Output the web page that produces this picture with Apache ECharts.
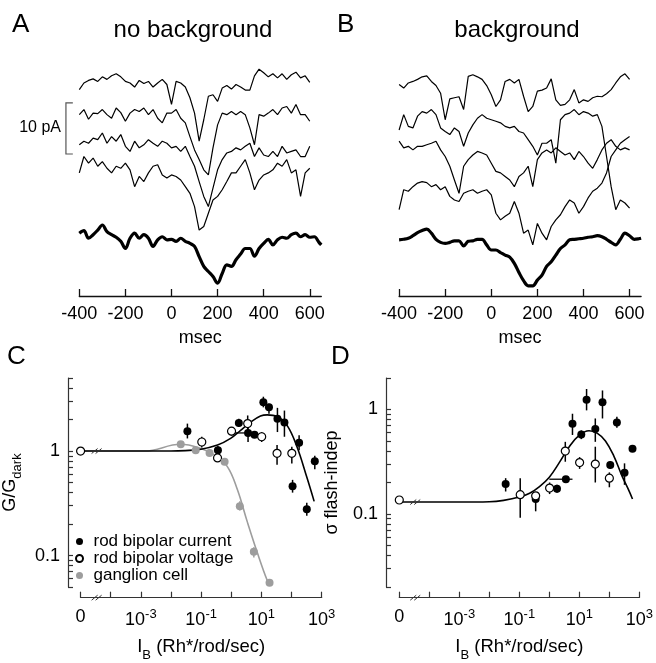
<!DOCTYPE html>
<html>
<head>
<meta charset="utf-8">
<script src="https://cdn.jsdelivr.net/npm/echarts@6/dist/echarts.min.js"></script>
<style>
  html, body { margin: 0; padding: 0; background: #fff; }
  #chart { width: 656px; height: 663px; }
</style>
</head>
<body>
<div id="chart"></div>
<script>
const FONT = '"Liberation Sans", Arial, Helvetica, sans-serif';
const GRAY = '#9d9d9d';

// ---- A / B : current traces (pA, stacked as drawn) ----
const traceTimes = [-400,-380,-360,-340,-320,-300,-280,-260,-240,-220,-200,-180,-160,-140,-120,-100,-80,-60,-40,-20,
  0,20,40,60,80,100,120,140,160,180,200,220,240,260,280,300,320,340,360,380,400,420,440,460,480,500,520,540,560,580,600];
const avgTimes = [-400,-380,-360,-340,-320,-300,-280,-260,-240,-220,-200,-180,-160,-140,-120,-100,-80,-60,-40,-20,
  0,20,40,60,80,100,120,140,160,180,200,220,240,260,280,300,320,340,360,380,400,420,440,460,480,500,520,540,560,580,600,620,640,650];

const noBg1 = [40.4,41.7,42.2,42.5,42.0,42.9,42.4,43.1,43.5,42.9,42.0,41.7,40.9,42.2,41.6,42.0,40.9,41.7,42.4,41.4,
  37.5,42.0,41.7,40.9,38.8,35.8,30.3,34.5,39.1,39.4,38.1,40.7,41.2,40.5,41.4,40.9,40.3,40.3,43.1,44.4,43.7,42.9,43.5,42.7,43.5,42.4,43.3,43.8,42.7,43.1,41.8];
const noBg2 = [35.5,36.5,34.6,35.8,35.7,36.5,35.5,34.8,36.8,35.9,34.2,35.8,36.5,36.1,36.8,35.5,36.5,34.8,33.9,35.8,
  35.8,36.5,34.8,33.9,31.2,28.6,26.7,24.7,23.7,29.0,33.5,35.8,35.5,36.1,35.5,36.1,35.5,32.9,29.6,35.5,35.2,35.8,36.5,35.5,36.8,37.1,35.8,37.5,35.5,35.5,34.2];
const noBg3 = [29.6,30.3,29.9,30.9,30.6,31.9,29.9,31.2,30.3,31.6,29.3,28.3,30.3,29.0,29.6,30.6,29.9,29.3,30.3,29.9,
  29.0,29.3,28.3,29.3,27.3,25.4,22.4,19.5,17.5,21.1,24.7,26.7,28.0,28.3,29.0,28.6,29.3,29.9,27.3,29.0,27.6,27.3,28.3,27.3,29.3,28.0,28.3,28.6,27.3,27.3,29.3];
const noBg4 = [24.1,27.3,26.0,27.0,25.4,26.3,25.0,24.1,25.4,25.0,26.0,24.7,21.4,23.4,22.4,24.1,25.4,25.7,23.7,23.1,
  23.7,23.4,22.7,21.4,20.1,17.5,12.9,13.6,16.2,18.8,19.5,20.8,22.4,24.1,24.1,25.4,26.7,24.1,20.8,22.7,23.7,24.1,24.7,26.0,25.4,26.7,24.1,24.7,19.5,24.1,25.0];
const noBgAvg = [12.3,12.8,11.3,12.0,12.9,13.9,12.6,12.0,11.5,10.7,9.3,11.3,12.3,11.3,12.0,11.3,9.7,11.0,11.6,11.0,
  11.1,10.7,11.3,10.7,10.3,9.7,7.7,5.8,4.8,3.8,2.5,4.4,6.1,5.8,7.1,8.2,9.3,9.3,7.8,9.3,10.3,11.1,10.0,11.0,11.5,11.3,12.0,12.3,11.6,12.0,11.5,11.6,10.5,10.0];

const bg1 = [41.4,40.7,41.7,42.0,42.4,42.9,43.1,42.0,41.2,39.7,34.5,38.6,38.8,39.0,36.5,43.0,43.3,42.9,42.4,41.2,
  39.4,37.1,38.4,42.0,42.4,41.7,42.4,39.1,36.1,37.1,40.1,40.3,40.7,42.5,38.4,37.3,37.5,38.4,40.4,37.8,38.4,38.1,38.8,39.1,39.0,39.6,40.4,41.7,42.9,43.5,42.4];
const bg2 = [32.5,35.5,33.2,32.9,35.2,36.1,35.8,36.5,35.5,32.9,32.2,31.6,32.9,32.2,29.3,31.9,33.5,34.8,35.5,34.8,
  34.5,34.2,33.9,33.2,32.9,33.2,32.2,31.9,30.6,29.3,27.6,29.9,29.9,30.6,26.0,34.5,35.5,35.8,36.5,35.5,36.1,35.8,35.2,35.5,33.2,27.3,21.4,16.9,18.8,18.2,17.2];
const bg3 = [30.3,29.0,29.3,28.6,29.3,29.3,29.6,29.9,30.3,28.6,27.3,25.4,22.7,20.1,25.4,26.7,27.6,28.3,28.0,27.6,
  26.0,24.4,24.1,23.4,22.7,21.4,23.4,24.1,25.4,21.4,26.7,28.0,28.6,28.0,29.0,28.3,27.6,28.0,26.7,28.3,27.3,26.0,25.0,26.7,28.6,29.9,30.6,29.3,28.6,29.0,28.6];
const bg4 = [16.9,20.8,20.5,21.4,22.1,22.4,22.2,21.4,21.8,20.8,21.4,19.5,18.8,18.5,20.1,20.5,20.8,20.1,20.5,20.8,
  19.8,16.2,14.9,15.6,16.2,18.5,16.2,12.3,12.9,10.0,14.2,12.3,11.0,13.6,14.9,15.9,17.5,18.8,18.2,16.2,17.5,19.2,20.5,21.1,22.1,24.1,27.3,28.6,29.9,30.6,31.2];
const bgAvg = [11.0,11.1,11.3,11.8,12.4,12.8,13.1,12.3,11.1,10.5,10.3,10.5,10.8,10.8,9.8,10.7,10.8,11.1,11.1,10.0,
  9.0,9.0,8.5,8.0,7.6,6.4,4.6,3.0,2.0,2.0,3.1,4.1,5.8,6.7,8.0,9.3,10.0,11.0,11.1,11.2,11.3,11.5,11.6,11.8,11.6,11.1,10.5,10.0,11.1,12.3,11.8,11.1,11.2,11.3];

const timeTicks = [-400, -200, 0, 200, 400, 600];
// scale bar: 10 pA, drawn left of the traces
const scaleBarPA = 10;
const scaleBarBase = 27.8;
const scaleBarT = -458;
const scaleBarTickEnd = -428;

// ---- C : G/Gdark vs background ----
const cCurrentX  = [0.035, 0.36, 1.78, 3.6, 5.9, 11.6, 17.8, 34, 58, 178, 108, 320, 590];
const cCurrentY  = [1.55, 1.02, 1.85, 1.49, 1.43, 2.93, 2.62, 2.04, 1.88, 1.2, 0.46, 0.277, 0.80];
const cCurrentLo = [1.32, 0.93, 1.70, 1.22, 1.36, 2.62, 2.27, 1.52, 1.37, 1.02, 0.40, 0.24, 0.67];
const cCurrentHi = [1.83, 1.12, 2.04, 1.70, 1.50, 3.31, 2.83, 2.59, 2.44, 1.42, 0.53, 0.32, 0.90];
const cVoltageX  = [0, 0.105, 0.35, 1.02, 3.5, 10.2, 33, 102];
const cVoltageY  = [1.0, 1.22, 0.86, 1.55, 1.83, 1.37, 0.95, 0.95];
const cVoltageLo = [1.0, 1.08, 0.79, 1.40, 1.58, 1.22, 0.74, 0.76];
const cVoltageHi = [1.0, 1.37, 0.95, 1.70, 2.19, 1.52, 1.14, 1.10];
const cGanglionX  = [0.021, 0.066, 0.19, 0.6, 1.92, 5.6, 18.6];
const cGanglionY  = [1.16, 1.02, 0.96, 0.79, 0.297, 0.109, 0.055];
const cGanglionLo = [1.12, 1.0, 0.93, 0.76, 0.27, 0.096, 0.052];
const cGanglionHi = [1.2, 1.05, 0.99, 0.82, 0.33, 0.12, 0.058];
const cHorizErr = [[1.49, 1.07, 3.6]]; // [G, I low, I high]
const cFitX = [0, 0.001, 0.01, 0.03, 0.098, 0.35, 0.95, 2.04, 4.4, 9.3, 15.5, 33, 71, 151, 316, 562];
const cFitY = [1.0, 1.0, 1.0, 1.01, 1.04, 1.14, 1.32, 1.58, 1.89, 2.16, 2.22, 2.14, 1.76, 1.10, 0.57, 0.33];
const cGangFitX = [0, 0.0013, 0.021, 0.098, 0.27, 0.74, 1.58, 3.4, 7.2, 15.5, 18.6];
const cGangFitY = [1.0, 1.0, 1.16, 1.06, 0.92, 0.71, 0.43, 0.21, 0.108, 0.058, 0.054];
const cYTicks = [0.05,0.06,0.07,0.08,0.09,0.1,0.2,0.3,0.4,0.5,0.6,0.7,0.8,0.9,1,2,3,4,5];

// ---- D : sigma flash-indep vs background ----
const dCurrentX  = [0.035, 0.35, 1.8, 3.55, 5.9, 11.6, 17.4, 34, 59, 178, 107, 320, 590];
const dCurrentY  = [0.193, 0.139, 0.174, 0.215, 0.73, 0.575, 1.24, 0.65, 1.17, 0.75, 0.294, 0.248, 0.42];
const dCurrentLo = [0.164, 0.106, 0.16, 0.2, 0.57, 0.52, 0.98, 0.49, 0.82, 0.67, 0.27, 0.19, 0.40];
const dCurrentHi = [0.22, 0.158, 0.19, 0.23, 0.91, 0.63, 1.57, 0.82, 1.52, 0.85, 0.32, 0.305, 0.44];
const dVoltageX  = [0, 0.107, 0.35, 1.02, 3.4, 10.2, 34, 100];
const dVoltageY  = [0.136, 0.153, 0.149, 0.177, 0.40, 0.31, 0.30, 0.22];
const dVoltageLo = [0.136, 0.092, 0.14, 0.155, 0.316, 0.27, 0.20, 0.18];
const dVoltageHi = [0.136, 0.22, 0.16, 0.2, 0.49, 0.35, 0.44, 0.25];
const dHorizErr = [[0.215, 1.0, 5.9]];
const dFitX = [0, 0.001, 0.01, 0.03, 0.1, 0.22, 0.47, 1.0, 2.14, 4.6, 9.8, 21, 40, 74, 140, 265, 437, 590];
const dFitY = [0.13, 0.13, 0.131, 0.135, 0.145, 0.158, 0.183, 0.225, 0.31, 0.44, 0.565, 0.625, 0.59, 0.5, 0.36, 0.23, 0.17, 0.139];
const dYTicks = [0.02,0.03,0.04,0.05,0.06,0.07,0.08,0.09,0.1,0.2,0.3,0.4,0.5,0.6,0.7,0.8,0.9,1,2];

const logTicks = [1e-5, 1e-4, 1e-3, 1e-2, 1e-1, 1, 10, 100, 1000];
const logLabels = [1e-5, 1e-3, 1e-1, 10, 1000];

// "0" sits one decade left of 10^-4, with an axis break between
const ZERO_POS = 1e-5;
const BREAK_POS = 3.4e-5;
const X_AXIS_OFFSET = 10.7;

const chart = echarts.init(document.getElementById('chart'));

function xy(xs, ys) {
  return xs.map((x, i) => [x === 0 ? ZERO_POS : x, ys[i]]);
}
function err(xs, lo, hi) {
  return xs.map((x, i) => [x === 0 ? ZERO_POS : x, lo[i], hi[i]]);
}

function trace(idx, times, vals, width) {
  return {
    type: 'line', xAxisIndex: idx, yAxisIndex: idx,
    data: times.map((t, i) => [t, vals[i]]),
    symbol: 'none', smooth: width > 2 ? 0.35 : false,
    lineStyle: { color: '#000', width: width }, z: 2
  };
}

function vBars(idx, data, color) {
  return {
    type: 'custom', xAxisIndex: idx, yAxisIndex: idx, data: data, z: 3, clip: false,
    encode: { x: 0, y: [1, 2] },
    renderItem: function (params, api) {
      const a = api.coord([api.value(0), api.value(1)]);
      const b = api.coord([api.value(0), api.value(2)]);
      return { type: 'line', shape: { x1: a[0], y1: a[1], x2: b[0], y2: b[1] },
        style: { stroke: color, lineWidth: 1.5 } };
    }
  };
}

function hBars(idx, data) {
  return {
    type: 'custom', xAxisIndex: idx, yAxisIndex: idx, data: data, z: 3,
    encode: { x: [1, 2], y: 0 },
    renderItem: function (params, api) {
      const a = api.coord([api.value(1), api.value(0)]);
      const b = api.coord([api.value(2), api.value(0)]);
      return { type: 'line', shape: { x1: a[0], y1: a[1], x2: b[0], y2: b[1] },
        style: { stroke: '#000', lineWidth: 1.3 } };
    }
  };
}

// double-slash break marks: [x, y, onXAxis]
function breaks(idx, data) {
  return {
    type: 'custom', xAxisIndex: idx, yAxisIndex: idx, data: data, z: 6, clip: false,
    renderItem: function (params, api) {
      const p = api.coord([api.value(0), api.value(1)]);
      const dy = api.value(2) ? X_AXIS_OFFSET : 0;
      return {
        type: 'group',
        children: [-2, 2].map(function (dx) {
          return { type: 'line',
            shape: { x1: p[0] + dx - 3, y1: p[1] + dy + 2.5, x2: p[0] + dx + 3, y2: p[1] + dy - 2.5 },
            style: { stroke: '#333', lineWidth: 1 } };
        })
      };
    }
  };
}

function scatter(idx, name, data, fill, border) {
  return {
    name: name, type: 'scatter', xAxisIndex: idx, yAxisIndex: idx, data: data,
    symbol: 'circle', symbolSize: 8, z: 5,
    itemStyle: { color: fill, opacity: 1, borderColor: border || fill, borderWidth: border ? 1.2 : 0 }
  };
}

function fit(idx, xs, ys, color) {
  return {
    type: 'line', xAxisIndex: idx, yAxisIndex: idx, data: xy(xs, ys),
    symbol: 'none', smooth: 0.4, lineStyle: { color: color, width: 1.6 }, z: 2
  };
}

const labelText = { color: '#000', fontFamily: FONT, fontSize: 18 };

function timeAxis(grid) {
  return {
    type: 'value', gridIndex: grid, min: -400, max: 650,
    axisLine: { lineStyle: { color: '#111', width: 1.3 } },
    axisTick: { inside: true, length: 7, customValues: timeTicks, lineStyle: { color: '#111', width: 1.3 } },
    axisLabel: Object.assign({ customValues: timeTicks, margin: 9 }, labelText),
    splitLine: { show: false },
    name: 'msec', nameLocation: 'middle', nameGap: 33,
    nameTextStyle: labelText
  };
}

function logXAxis(grid) {
  return {
    type: 'log', logBase: 10, gridIndex: grid, min: ZERO_POS, max: 1000, offset: X_AXIS_OFFSET,
    axisLine: { lineStyle: { color: '#333', width: 1.2 } },
    axisTick: { inside: true, length: 6, customValues: logTicks, lineStyle: { color: '#333', width: 1.2 } },
    axisLabel: {
      customValues: logLabels, margin: 10,
      formatter: function (v) {
        if (v < 2 * ZERO_POS) return '{b|0}';
        return '{b|10}{sup|' + Math.round(Math.log10(v)) + '}';
      },
      rich: {
        b: { fontSize: 18, fontFamily: FONT, color: '#000', verticalAlign: 'bottom' },
        sup: { fontSize: 13, fontFamily: FONT, color: '#000', verticalAlign: 'bottom', padding: [0, 0, 8, 0] }
      }
    },
    splitLine: { show: false },
    name: '{b|I}{sub|B}{b| (Rh*/rod/sec)}', nameLocation: 'middle', nameGap: 40,
    nameTextStyle: {
      rich: {
        b: { fontSize: 18.5, fontFamily: FONT, color: '#000', verticalAlign: 'bottom', padding: [0, 0, 5, 0] },
        sub: { fontSize: 13, fontFamily: FONT, color: '#000', verticalAlign: 'bottom' }
      }
    }
  };
}

function logYAxis(grid, min, max, ticks, offset, name, gap) {
  return {
    type: 'log', logBase: 10, gridIndex: grid, min: min, max: max, offset: offset,
    axisLine: { lineStyle: { color: '#333', width: 1.2 } },
    axisTick: { inside: true, length: 5, customValues: ticks, lineStyle: { color: '#333', width: 1.2 } },
    axisLabel: Object.assign({
      customValues: [0.1, 1], margin: 8,
      formatter: function (v) { return v < 0.5 ? '0.1' : '1'; }
    }, labelText),
    splitLine: { show: false },
    name: name, nameLocation: 'middle', nameRotate: 90, nameGap: gap,
    nameTextStyle: {
      rich: {
        b: { fontSize: 18, fontFamily: FONT, color: '#000', verticalAlign: 'bottom', padding: [0, 0, 5, 0] },
        sub: { fontSize: 13, fontFamily: FONT, color: '#000', verticalAlign: 'bottom' }
      }
    }
  };
}

const hiddenY = { type: 'value', min: 0, max: 46, show: false };

const option = {
  animation: false,
  grid: [
    { left: 79.3, top: 61, width: 242, height: 235 },
    { left: 399.1, top: 61, width: 242, height: 235 },
    { left: 79.3, top: 378, width: 242.4, height: 209 },
    { left: 399.3, top: 378, width: 241.7, height: 209 }
  ],
  xAxis: [timeAxis(0), timeAxis(1), logXAxis(2), logXAxis(3)],
  yAxis: [
    Object.assign({ gridIndex: 0 }, hiddenY),
    Object.assign({ gridIndex: 1 }, hiddenY),
    logYAxis(2, 0.05, 5, cYTicks, 12.6, '{b|G/G}{sub|dark}', 44),
    logYAxis(3, 0.02, 2, dYTicks, 13.3, '{b|σ flash-indep}', 40)
  ],
  legend: {
    data: ['rod bipolar current', 'rod bipolar voltage', 'ganglion cell'],
    orient: 'vertical', left: 70, top: 528, itemWidth: 18, itemHeight: 7, itemGap: 0,
    icon: 'circle', selectedMode: false,
    textStyle: { fontSize: 17, fontFamily: FONT, color: '#000', lineHeight: 16 }
  },
  graphic: [
    { type: 'text', left: 12, top: 12, style: { text: 'A', font: '26px ' + FONT, fill: '#000' } },
    { type: 'text', x: 193, y: 30, style: { text: 'no background', font: '24px ' + FONT, fill: '#000', textAlign: 'center', textVerticalAlign: 'middle' } },
    { type: 'text', left: 337, top: 12, style: { text: 'B', font: '26px ' + FONT, fill: '#000' } },
    { type: 'text', x: 517, y: 30, style: { text: 'background', font: '24px ' + FONT, fill: '#000', textAlign: 'center', textVerticalAlign: 'middle' } },
    { type: 'text', left: 7, top: 344, style: { text: 'C', font: '26px ' + FONT, fill: '#000' } },
    { type: 'text', left: 331, top: 344, style: { text: 'D', font: '26px ' + FONT, fill: '#000' } },
    { type: 'text', x: 61, y: 128, style: { text: '10 pA', font: '16px ' + FONT, fill: '#000', textAlign: 'right', textVerticalAlign: 'middle' } }
  ],
  series: [
    trace(0, traceTimes, noBg1, 1.2),
    trace(0, traceTimes, noBg2, 1.2),
    trace(0, traceTimes, noBg3, 1.2),
    trace(0, traceTimes, noBg4, 1.2),
    trace(0, avgTimes, noBgAvg, 3.2),
    {
      // 10 pA scale bar, placed through the trace axes
      type: 'custom', xAxisIndex: 0, yAxisIndex: 0, clip: false, z: 4,
      data: [[scaleBarT, scaleBarBase, scaleBarBase + scaleBarPA, scaleBarTickEnd]],
      renderItem: function (params, api) {
        const a = api.coord([api.value(3), api.value(1)]);
        const b = api.coord([api.value(0), api.value(1)]);
        const c = api.coord([api.value(0), api.value(2)]);
        const d = api.coord([api.value(3), api.value(2)]);
        return { type: 'polyline', shape: { points: [a, b, c, d] },
          style: { stroke: '#555', lineWidth: 1.2, fill: null } };
      }
    },
    trace(1, traceTimes, bg1, 1.2),
    trace(1, traceTimes, bg2, 1.2),
    trace(1, traceTimes, bg3, 1.2),
    trace(1, traceTimes, bg4, 1.2),
    trace(1, avgTimes, bgAvg, 3.2),

    fit(2, cGangFitX, cGangFitY, GRAY),
    fit(2, cFitX, cFitY, '#000'),
    vBars(2, err(cGanglionX, cGanglionLo, cGanglionHi), GRAY),
    vBars(2, err(cCurrentX, cCurrentLo, cCurrentHi), '#000'),
    vBars(2, err(cVoltageX, cVoltageLo, cVoltageHi), '#000'),
    hBars(2, cHorizErr),
    scatter(2, 'rod bipolar current', xy(cCurrentX, cCurrentY), '#000'),
    scatter(2, 'rod bipolar voltage', xy(cVoltageX, cVoltageY), '#fff', '#000'),
    scatter(2, 'ganglion cell', xy(cGanglionX, cGanglionY), GRAY),
    breaks(2, [[BREAK_POS, 1, 0], [BREAK_POS, 0.05, 1]]),

    fit(3, dFitX, dFitY, '#000'),
    vBars(3, err(dCurrentX, dCurrentLo, dCurrentHi), '#000'),
    vBars(3, err(dVoltageX, dVoltageLo, dVoltageHi), '#000'),
    hBars(3, dHorizErr),
    scatter(3, 'current (D)', xy(dCurrentX, dCurrentY), '#000'),
    scatter(3, 'voltage (D)', xy(dVoltageX, dVoltageY), '#fff', '#000'),
    breaks(3, [[BREAK_POS, 0.13, 0], [BREAK_POS, 0.02, 1]])
  ]
};

chart.setOption(option);
</script>
</body>
</html>
